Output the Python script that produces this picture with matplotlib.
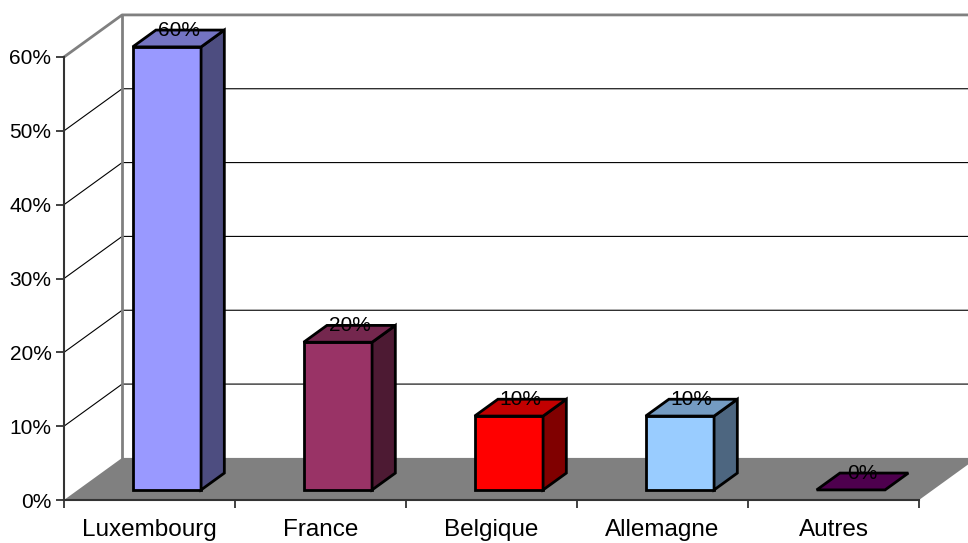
import matplotlib
matplotlib.use('Agg')
import matplotlib.pyplot as plt
import matplotlib.colors as mcolors
from matplotlib.patches import Polygon
from matplotlib.ticker import PercentFormatter, FixedLocator, NullFormatter

countries = ['Luxembourg', 'France', 'Belgique', 'Allemagne', 'Autres']
shares = [0.60, 0.20, 0.10, 0.10, 0.00]
bar_colors = ['#9999FF', '#993366', '#FF0000', '#99CCFF', '#660066']
y_ticks = [0.0, 0.1, 0.2, 0.3, 0.4, 0.5, 0.6]

# oblique projection: depth z runs from 0 (front) to 1 (back wall)
DX, DY = 0.34, 0.057
BAR_X0, BAR_W = 0.32, 0.40
BAR_Z0, BAR_Z1 = 0.24, 0.64
WALL_GREY = '#808080'

plt.rcParams['font.family'] = ['Liberation Sans', 'DejaVu Sans']


def proj(x, y, z):
    return (x + z * DX, y + z * DY)


def shade(color, f):
    r, g, b = mcolors.to_rgb(color)
    return (r * f, g * f, b * f)


def face(ax, pts, fc, ec='none', lw=0, z=1):
    ax.add_patch(Polygon([proj(*p) for p in pts], closed=True, fc=fc, ec=ec,
                         lw=lw, clip_on=False, zorder=z, joinstyle='miter'))


fig = plt.figure(figsize=(9.68, 5.43), dpi=100)
ax = fig.add_axes([64 / 968, 43 / 543, 855 / 968, 443 / 543])
n = len(countries)
ymax = y_ticks[-1]
ax.set_xlim(0, n)
ax.set_ylim(0, ymax)

# walls and floor
face(ax, [(0, 0, 0), (0, ymax, 0), (0, ymax, 1), (0, 0, 1)], 'white', z=0.5)
face(ax, [(0, 0, 1), (0, ymax, 1), (n, ymax, 1), (n, 0, 1)], 'white', z=0.5)
for v in y_ticks[1:-1]:
    xs, ys = zip(proj(0, v, 0), proj(0, v, 1), proj(n, v, 1))
    ax.plot(xs, ys, color='black', lw=0.8, clip_on=False, zorder=0.8)
xs, ys = zip(proj(0, ymax, 0), proj(0, ymax, 1), proj(n, ymax, 1))
ax.plot(xs, ys, color=WALL_GREY, lw=2, clip_on=False, zorder=0.8)
xs, ys = zip(proj(0, 0, 1), proj(0, ymax, 1))
ax.plot(xs, ys, color=WALL_GREY, lw=2, clip_on=False, zorder=0.8)
face(ax, [(0, 0, 0), (n, 0, 0), (n, 0, 1), (0, 0, 1)], WALL_GREY, z=1)

# bars
for i, (v, c) in enumerate(zip(shares, bar_colors)):
    x0, x1 = i + BAR_X0, i + BAR_X0 + BAR_W
    kw = dict(ec='black', lw=2, z=3)
    if v > 0:
        face(ax, [(x0, 0, BAR_Z0), (x1, 0, BAR_Z0), (x1, v, BAR_Z0), (x0, v, BAR_Z0)], c, **kw)
        face(ax, [(x1, 0, BAR_Z0), (x1, 0, BAR_Z1), (x1, v, BAR_Z1), (x1, v, BAR_Z0)],
             shade(c, 0.5), **kw)
    face(ax, [(x0, v, BAR_Z0), (x1, v, BAR_Z0), (x1, v, BAR_Z1), (x0, v, BAR_Z1)],
         shade(c, 0.76), **kw)
    zm = (BAR_Z0 + BAR_Z1) / 2
    ax.annotate(f'{v:.0%}', xy=proj(i + BAR_X0 + BAR_W / 2, v, zm), xytext=(0, 2),
                textcoords='offset points', ha='center', va='baseline',
                fontsize=15, zorder=5, annotation_clip=False)

# axes
for side in ('top', 'right'):
    ax.spines[side].set_visible(False)
for side in ('left', 'bottom'):
    ax.spines[side].set_color('#333333')
    ax.spines[side].set_linewidth(1.5)
    ax.spines[side].set_zorder(4)
ax.patch.set_visible(False)

ax.set_yticks(y_ticks)
ax.yaxis.set_major_formatter(PercentFormatter(1.0, decimals=0))
ax.tick_params(axis='y', length=6, width=1.3, color='#333333', labelsize=15, pad=3)

ax.set_xticks(range(n + 1))
ax.xaxis.set_major_formatter(NullFormatter())
ax.xaxis.set_minor_locator(FixedLocator([i + 0.5 for i in range(n)]))
ax.set_xticklabels(countries, minor=True)
ax.tick_params(axis='x', which='major', length=6, width=1.3, color='#333333')
ax.tick_params(axis='x', which='minor', length=0, labelsize=17.5, pad=14)

fig.savefig('out.png', dpi=100)
